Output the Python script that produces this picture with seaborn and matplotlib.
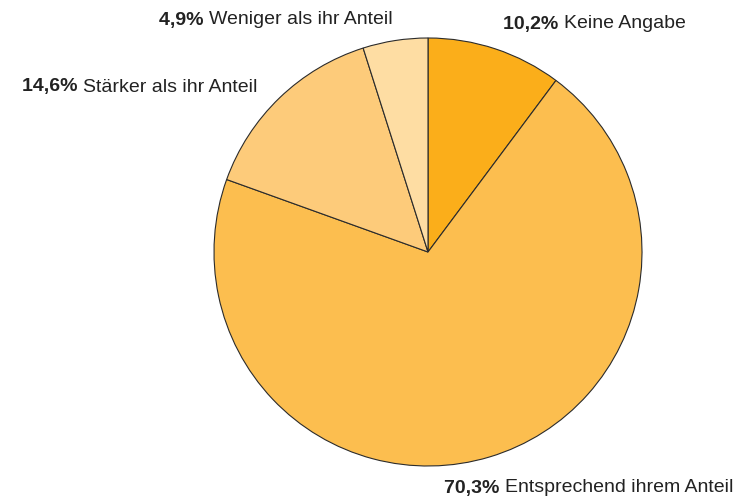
import matplotlib
matplotlib.use("Agg")
import matplotlib.pyplot as plt
import seaborn as sns

# data (clockwise from 12 o'clock)
categories = ["Keine Angabe", "Entsprechend ihrem Anteil", "Stärker als ihr Anteil", "Weniger als ihr Anteil"]
values = [10.2, 70.3, 14.6, 4.9]
value_labels = ["10,2%", "70,3%", "14,6%", "4,9%"]
colors = ["#FBAE1A", "#FCBE4F", "#FDCB7A", "#FEDDA3"]

sns.set_theme(style="white")
plt.rcParams["font.family"] = ["Liberation Sans", "DejaVu Sans"]

W, H = 738, 497
fig = plt.figure(figsize=(W / 100, H / 100), dpi=100)

# pie placed by pixel centre / radius
cx, cy, r = 428, 252, 214
ax = fig.add_axes([(cx - r) / W, (H - cy - r) / H, 2 * r / W, 2 * r / H])
ax.pie(values, colors=colors, startangle=90, counterclock=False,
       wedgeprops=dict(edgecolor="#2b2b2b", linewidth=0.8))
ax.set_xlim(-1, 1)
ax.set_ylim(-1, 1)
ax.set_aspect("equal")
ax.axis("off")

# label positions (left x, centre y) in pixels
label_pos = [(503, 24), (444, 488), (22, 87), (159, 20)]
for (x, y), pct, name in zip(label_pos, value_labels, categories):
    t = fig.text(x / W, 1 - y / H, pct + " ", fontsize=14, fontweight="bold",
                 color="#222222", va="center", ha="left")
    fig.canvas.draw()
    bb = t.get_window_extent()
    fig.text(bb.x1 / W, 1 - y / H, name, fontsize=14, color="#222222",
             va="center", ha="left")

fig.savefig("out.png", dpi=100)
